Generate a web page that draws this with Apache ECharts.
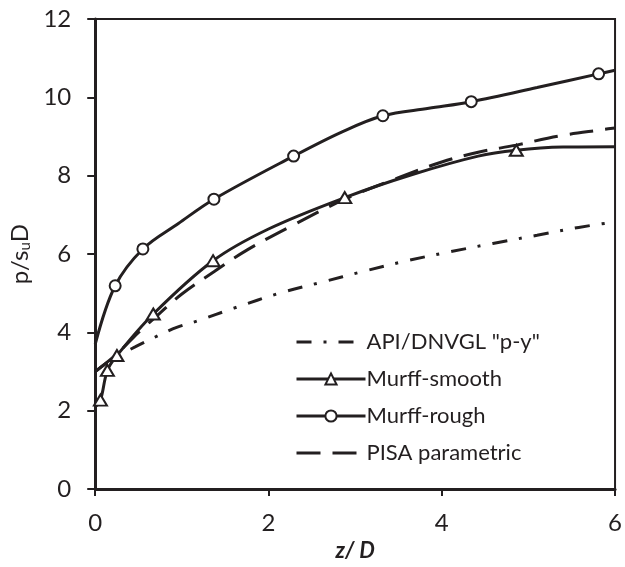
<!DOCTYPE html>
<html><head><meta charset="utf-8">
<script src="https://cdn.jsdelivr.net/npm/echarts@6/dist/echarts.min.js"></script>
<style>html,body{margin:0;padding:0;background:#fff}#c{width:625px;height:567px}</style>
</head><body><div id="c"></div>
<script>
// ---- data ----
const seriesNames = ['API/DNVGL "p-y"', 'Murff-smooth', 'Murff-rough', 'PISA parametric'];
const xTicks = [0, 2, 4, 6];
const yTicks = [0, 2, 4, 6, 8, 10, 12];

const apiX = [0, 0.2, 0.46, 0.72, 0.94, 1.19, 1.6, 2.14, 2.61, 3.1, 3.6, 4.1, 4.59, 5.1, 5.58, 6];
const apiY = [3.0, 3.32, 3.63, 3.91, 4.13, 4.30, 4.62, 5.01, 5.28, 5.56, 5.83, 6.06, 6.27, 6.48, 6.68, 6.82];

const smoothX = [0, 0.06, 0.14, 0.25, 0.67, 1.36, 2.0, 2.88, 3.66, 4.42, 4.86, 5.4, 6];
const smoothY = [2.1, 2.27, 3.03, 3.41, 4.47, 5.83, 6.64, 7.44, 8.03, 8.50, 8.65, 8.73, 8.74];
const smoothMarker = [0, 1, 1, 1, 1, 1, 0, 1, 0, 0, 1, 0, 0];

const roughX = [0, 0.23, 0.55, 0.96, 1.37, 2.29, 2.85, 3.32, 3.85, 4.34, 5.1, 5.81, 6];
const roughY = [3.7, 5.19, 6.13, 6.78, 7.40, 8.50, 9.12, 9.53, 9.72, 9.89, 10.25, 10.60, 10.69];
const roughMarker = [0, 1, 1, 0, 1, 1, 0, 1, 0, 1, 0, 1, 0];

const pisaX = [0, 0.25, 0.5, 0.75, 1.0, 1.37, 1.75, 2.25, 2.88, 3.5, 4.0, 4.42, 4.86, 5.34, 5.87, 6];
const pisaY = [3.0, 3.45, 4.0, 4.5, 4.98, 5.55, 6.1, 6.7, 7.4, 7.95, 8.35, 8.6, 8.78, 9.01, 9.18, 9.22];

// ---- build chart ----
const ink = '#231f20';
const font = 'Lato';
const clear = 'rgba(0,0,0,0)';
function pts(xs, ys, marks) {
  return xs.map((x, i) => {
    const d = { value: [x, ys[i]] };
    if (marks && !marks[i]) d.symbol = 'none';
    return d;
  });
}
const chart = echarts.init(document.getElementById('c'), null, { renderer: 'canvas' });
chart.setOption({
  animation: false,
  backgroundColor: '#fff',
  grid: { left: 93, right: 8, top: 19, bottom: 76, show: true, borderColor: ink, borderWidth: 2 },
  xAxis: {
    type: 'value', min: xTicks[0], max: xTicks[xTicks.length - 1], interval: 2,
    splitLine: { show: false },
    axisLine: { show: true, onZero: false, lineStyle: { color: ink, width: 3 } },
    axisTick: { show: true, inside: false, length: 7, lineStyle: { color: ink, width: 2 } },
    axisLabel: { color: ink, fontFamily: font, fontSize: 24, margin: 22 },
    name: 'z/ D', nameLocation: 'middle', nameGap: 48,
    nameTextStyle: { color: ink, fontFamily: font, fontSize: 22, fontStyle: 'italic', fontWeight: 'bold' }
  },
  yAxis: {
    type: 'value', min: yTicks[0], max: yTicks[yTicks.length - 1], interval: 2,
    splitLine: { show: false },
    axisLine: { show: true, onZero: false, lineStyle: { color: ink, width: 3 } },
    axisTick: { show: true, inside: false, length: 8, lineStyle: { color: ink, width: 2 } },
    axisLabel: { color: ink, fontFamily: font, fontSize: 24, margin: 24 },
    name: '{a|p/s}{s|u}{a|D}', nameLocation: 'middle', nameGap: 58, nameRotate: 90,
    nameTextStyle: {
      color: ink, fontFamily: font, fontSize: 24,
      rich: {
        a: { color: ink, fontFamily: font, fontSize: 24 },
        s: { color: ink, fontFamily: font, fontSize: 15, verticalAlign: 'bottom', padding: [10, 0, 0, 0] }
      }
    }
  },
  legend: {
    orient: 'vertical', left: 290, top: 326,
    itemWidth: 69, itemHeight: 14, itemGap: 15,
    lineStyle: { width: 3 },
    textStyle: { color: ink, fontFamily: font, fontSize: 22, padding: [0, 0, 0, -4] },
    data: seriesNames
  },
  series: [
    {
      name: seriesNames[0], type: 'line', smooth: 0.35, symbol: 'none',
      lineStyle: { color: ink, width: 3, type: [15, 12, 3, 12] },
      itemStyle: { color: clear, borderColor: clear },
      data: pts(apiX, apiY), z: 2
    },
    {
      name: seriesNames[1], type: 'line', smooth: 0.35,
      symbol: 'emptyTriangle', symbolSize: [13, 11],
      lineStyle: { color: ink, width: 3 },
      itemStyle: { color: ink, borderWidth: 1.5 },
      data: pts(smoothX, smoothY, smoothMarker), z: 4
    },
    {
      name: seriesNames[2], type: 'line', smooth: 0.35,
      symbol: 'emptyCircle', symbolSize: 11,
      lineStyle: { color: ink, width: 3 },
      itemStyle: { color: ink, borderWidth: 1.5 },
      data: pts(roughX, roughY, roughMarker), z: 4
    },
    {
      name: seriesNames[3], type: 'line', smooth: 0.35, symbol: 'none',
      lineStyle: { color: ink, width: 3, type: [24, 12] },
      itemStyle: { color: clear, borderColor: clear },
      data: pts(pisaX, pisaY), z: 3
    }
  ]
});
</script></body></html>
